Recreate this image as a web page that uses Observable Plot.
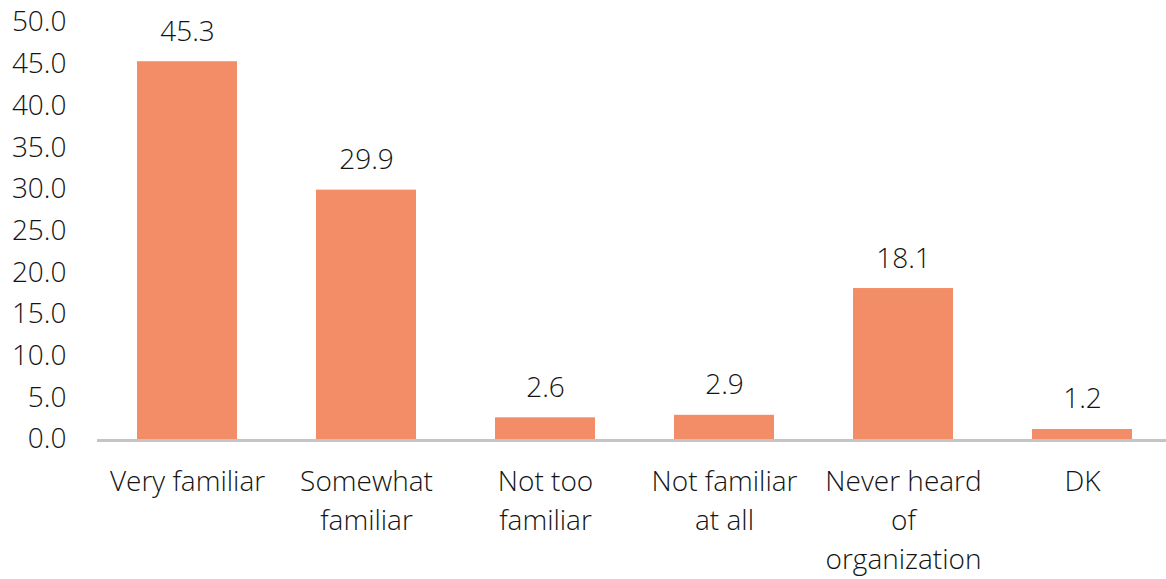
<!DOCTYPE html>
<html>
<head>
<meta charset="utf-8">
<script src="https://cdn.jsdelivr.net/npm/d3@7"></script>
<script src="https://cdn.jsdelivr.net/npm/@observablehq/plot@0.6"></script>
<style>
  html, body { margin: 0; padding: 0; background: #fff; overflow: hidden; }
  #chart svg { display: block; }
</style>
</head>
<body>
<div id="chart"></div>
<script>
const categories = ["Very familiar", "Somewhat familiar", "Not too familiar", "Not familiar at all", "Never heard of organization", "DK"];
const tickLabels = ["Very familiar", "Somewhat\nfamiliar", "Not too\nfamiliar", "Not familiar\nat all", "Never heard\nof\norganization", "DK"];
const values = [45.3, 29.9, 2.6, 2.9, 18.1, 1.2];
const yTicks = [0, 5, 10, 15, 20, 25, 30, 35, 40, 45, 50];

const data = categories.map((c, i) => ({category: c, value: values[i], label: tickLabels[i]}));
const labelOf = new Map(data.map(d => [d.category, d.label]));

const font = "'Open Sans', sans-serif";
const fs = 28;
const ink = "#141414";
const chart = Plot.plot({
  width: 1166,
  height: 579,
  marginLeft: 97,
  marginRight: 0,
  marginTop: 22,
  marginBottom: 140,
  style: {fontFamily: font, fontSize: fs + "px", fontWeight: 300, color: ink, background: "#fff"},
  x: {domain: categories, range: [97, 1172], paddingInner: 0.44, paddingOuter: 0.22, label: null},
  y: {domain: [0, 50], label: null},
  marks: [
    Plot.barY(data, {x: "category", y: "value", fill: "#F38D68"}),
    Plot.ruleY([0], {stroke: "#c4c4c4", strokeWidth: 3, dy: 1}),
    Plot.text(data, {x: "category", y: "value", text: d => d.value.toFixed(1), dy: -30, fontSize: fs, fontWeight: 300, fill: ink}),
    Plot.axisY({ticks: yTicks, tickSize: 0, tickPadding: 31, tickFormat: d => d.toFixed(1), fontSize: fs, fontWeight: 300, fill: ink, label: null}),
    Plot.axisX({tickSize: 0, tickPadding: 24, tickFormat: d => labelOf.get(d), fontSize: fs, fontWeight: 300, lineHeight: 39 / fs, fill: ink, label: null, lineAnchor: "top"})
  ]
});
document.getElementById("chart").appendChild(chart);
</script>
</body>
</html>
